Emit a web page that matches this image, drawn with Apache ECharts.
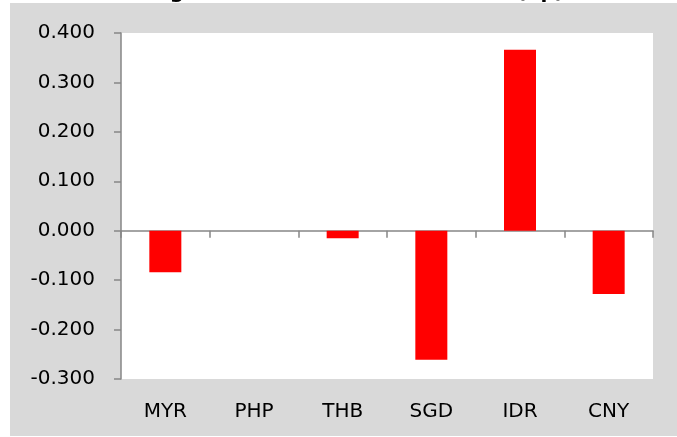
<!DOCTYPE html>
<html>
<head>
<meta charset="utf-8">
<script src="https://cdn.jsdelivr.net/npm/echarts@6/dist/echarts.min.js"></script>
<style>html,body{margin:0;padding:0;background:#fff;}#c{width:677px;height:437px;}</style>
</head>
<body>
<div id="c"></div>
<script>
const categories = ['MYR', 'PHP', 'THB', 'SGD', 'IDR', 'CNY'];
const values = [-0.084, 0.0, -0.015, -0.261, 0.366, -0.128];
const titleText = 'Change in Interbank Interest Rates (bp)';

const chart = echarts.init(document.getElementById('c'), null, {renderer: 'canvas'});
const axisGray = '#868686';
const font = 'DejaVu Sans';
chart.setOption({
  backgroundColor: '#ffffff',
  animation: false,
  title: {
    text: titleText,
    left: 'center',
    top: -22,
    textStyle: {fontFamily: font, fontSize: 20, fontWeight: 'bold', color: '#000'}
  },
  graphic: [{
    type: 'rect', z: -10, silent: true,
    shape: {x: 10, y: 3, width: 667, height: 433},
    style: {fill: '#d9d9d9'}
  }],
  grid: {
    left: 121, top: 33, right: 24, bottom: 58,
    show: true, backgroundColor: '#ffffff', borderWidth: 0
  },
  xAxis: [{
    type: 'category',
    data: categories,
    boundaryGap: true,
    axisLine: {onZero: true, lineStyle: {color: axisGray, width: 1.5}},
    axisTick: {show: true, inside: false, length: 7, lineStyle: {color: axisGray, width: 1.5}},
    axisLabel: {show: false},
    splitLine: {show: false}
  }, {
    type: 'category',
    data: categories,
    position: 'bottom',
    axisLine: {show: false, onZero: false},
    axisTick: {show: false},
    axisLabel: {show: true, fontFamily: font, fontSize: 20, color: '#000', margin: 23},
    splitLine: {show: false}
  }],
  yAxis: {
    type: 'value',
    min: -0.3, max: 0.4, interval: 0.1,
    axisLine: {show: true, lineStyle: {color: axisGray, width: 1.5}},
    axisTick: {show: true, inside: false, length: 7, lineStyle: {color: axisGray, width: 1.5}},
    axisLabel: {
      fontFamily: font, fontSize: 20, color: '#000', margin: 26,
      formatter: v => v.toFixed(3)
    },
    splitLine: {show: false}
  },
  series: [{
    type: 'bar',
    xAxisIndex: 0,
    data: values,
    barWidth: 32,
    itemStyle: {color: '#ff0000'}
  }]
});
</script>
</body>
</html>
